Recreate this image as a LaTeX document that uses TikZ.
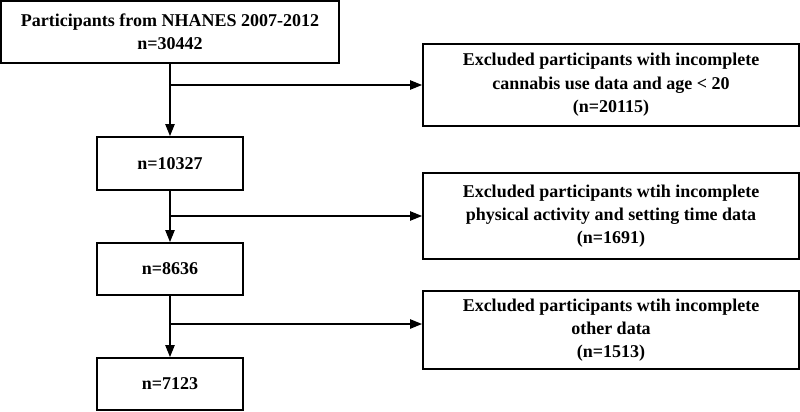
\documentclass[tikz,border=0pt]{standalone}
\usepackage{fontspec}
\setmainfont{Liberation Serif}
\usetikzlibrary{arrows.meta}
\begin{document}
\begin{tikzpicture}[x=0.75pt,y=-0.75pt,
  box/.style={draw,line width=1.4pt,inner sep=0pt,align=center,font=\bfseries\fontsize{13.5}{17.5}\selectfont},
  arr/.style={line width=1.1pt,-{Triangle[length=9pt,width=7pt]}},
  ln/.style={line width=1.1pt}]
\useasboundingbox (0,0) rectangle (800,411);
\node[box,minimum width=338*0.75pt,minimum height=62*0.75pt] (a) at (170,32) {Participants from NHANES 2007-2012\\n=30442};
\node[box,minimum width=146*0.75pt,minimum height=53*0.75pt] (b) at (170,163.5) {n=10327};
\node[box,minimum width=146*0.75pt,minimum height=52*0.75pt] (c) at (170,269) {n=8636};
\node[box,minimum width=146*0.75pt,minimum height=52*0.75pt] (d) at (170,384) {n=7123};
\node[box,minimum width=376*0.75pt,minimum height=82*0.75pt] (e1) at (611,85) {Excluded participants with incomplete\\cannabis use data and age < 20\\(n=20115)};
\node[box,minimum width=376*0.75pt,minimum height=86*0.75pt] (e2) at (611,216) {Excluded participants wtih incomplete\\physical activity and setting time data\\(n=1691)};
\node[box,minimum width=376*0.75pt,minimum height=78*0.75pt] (e3) at (611,330) {Excluded participants wtih incomplete\\other data\\(n=1513)};
\coordinate (j1) at (170,85);
\coordinate (j2) at (170,216);
\coordinate (j3) at (170,324);
\draw[arr] (a) -- (b);
\draw[arr] (b) -- (c);
\draw[arr] (c) -- (d);
\draw[arr] (j1) -- (e1.west|-j1);
\draw[arr] (j2) -- (e2.west|-j2);
\draw[arr] (j3) -- (e3.west|-j3);
\end{tikzpicture}
\end{document}
